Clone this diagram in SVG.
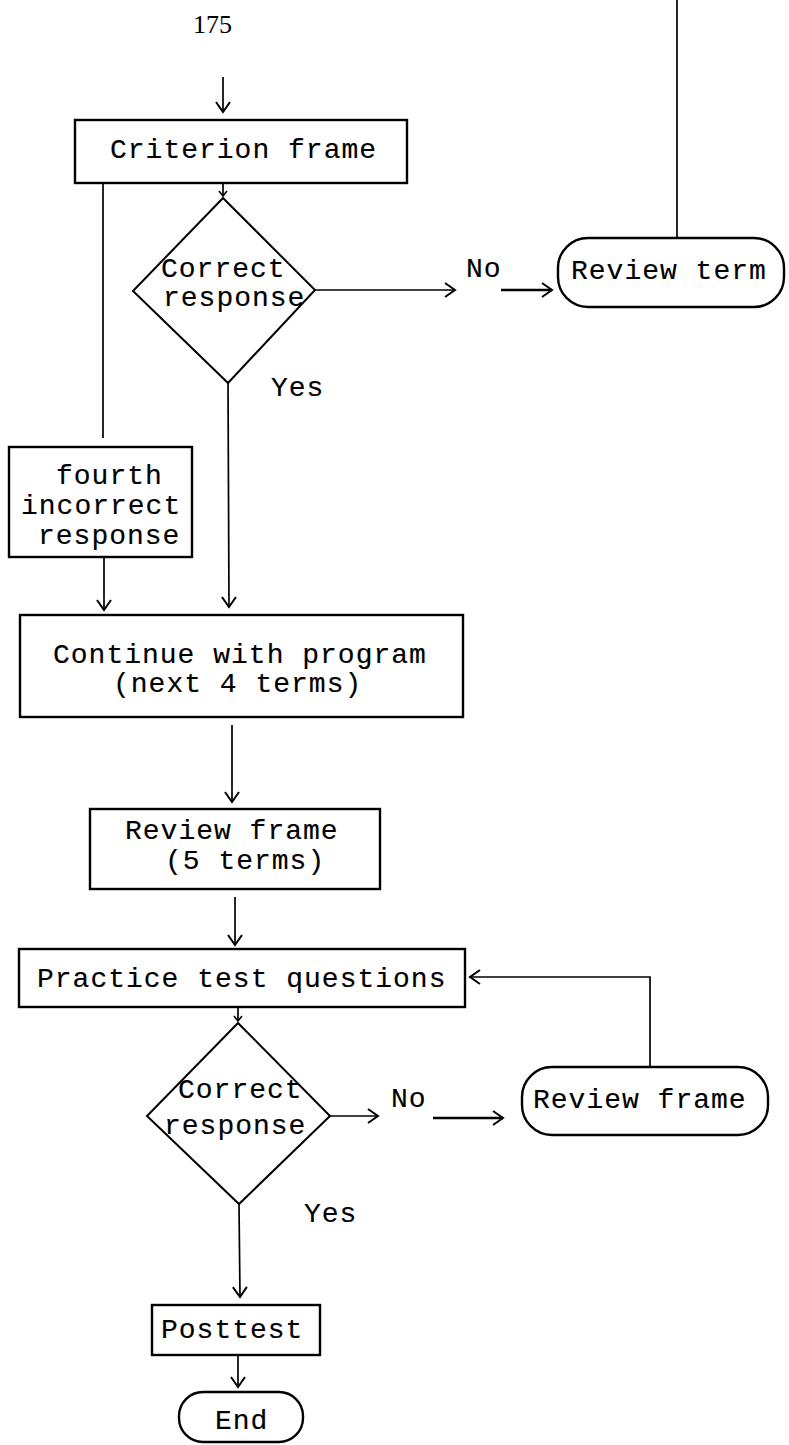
<svg xmlns="http://www.w3.org/2000/svg" width="789" height="1445" viewBox="0 0 789 1445">
  <style>
    .box { fill: none; stroke: #000; stroke-width: 2.4; }
    .dec { fill: none; stroke: #000; stroke-width: 2; stroke-linejoin: miter; }
    .wire { fill: none; stroke: #000; stroke-width: 1.7; }
    .bold { stroke-width: 2.4; }
    .t { font-family: "Liberation Mono", "Courier New", monospace; font-size: 28px; letter-spacing: 1px; fill: #000; stroke: #000; stroke-width: 0.15px; }
    .pg { font-family: "Liberation Serif", "Times New Roman", serif; font-size: 26px; fill: #000; }
  </style>
  <defs>
    <marker id="arr" markerUnits="userSpaceOnUse" viewBox="-12 -9 14 18" markerWidth="14" markerHeight="18" refX="0" refY="0" orient="auto">
      <path d="M-10,-7 L0,0 L-10,7" fill="none" stroke="#000" stroke-width="2"/>
    </marker>
    <marker id="arrS" markerUnits="userSpaceOnUse" viewBox="-7 -5 8 10" markerWidth="8" markerHeight="10" refX="0" refY="0" orient="auto">
      <path d="M-5,-4 L0,0 L-5,4" fill="none" stroke="#000" stroke-width="1.6"/>
    </marker>
  </defs>

  <!-- page number -->
  <text class="pg" x="193" y="33">175</text>

  <!-- connectors -->
  <g id="connectors">
    <path class="wire" d="M223,77 L223,112" marker-end="url(#arr)"/>
    <path class="wire" d="M223,184 L223,196" marker-end="url(#arrS)"/>
    <path class="wire" d="M315,290 L455,290" marker-end="url(#arr)"/>
    <path class="wire bold" d="M501,290 L552,290" marker-end="url(#arr)"/>
    <path class="wire" d="M677,238 L677,0"/>
    <path class="wire" d="M103,184 L103,438"/>
    <path class="wire" d="M104,558 L104,610" marker-end="url(#arr)"/>
    <path class="wire" d="M228,383 L229,607" marker-end="url(#arr)"/>
    <path class="wire" d="M232,725 L232,802" marker-end="url(#arr)"/>
    <path class="wire" d="M235,897 L235,945" marker-end="url(#arr)"/>
    <path class="wire" d="M238,1008 L238,1021" marker-end="url(#arrS)"/>
    <path class="wire" d="M330,1116 L378,1116" marker-end="url(#arr)"/>
    <path class="wire bold" d="M433,1118 L503,1118" marker-end="url(#arr)"/>
    <path class="wire" d="M650,1067 L650,977 L470,977" marker-end="url(#arr)"/>
    <path class="wire" d="M239,1204 L240,1297" marker-end="url(#arr)"/>
    <path class="wire" d="M238,1356 L238,1387" marker-end="url(#arr)"/>
  </g>

  <!-- branch labels -->
  <g id="labels">
    <text class="t" x="466" y="277">No</text>
    <text class="t" x="271" y="396">Yes</text>
    <text class="t" x="391" y="1107">No</text>
    <text class="t" x="304" y="1222">Yes</text>
  </g>

  <g id="criterion-frame">
    <rect class="box" x="75" y="120" width="332" height="63"/>
    <text class="t" x="110" y="158">Criterion frame</text>
  </g>

  <g id="decision-1">
    <polygon class="dec" points="223,198 315,290 228,383 133,291"/>
    <text class="t" x="161" y="277">Correct</text>
    <text class="t" x="163" y="306">response</text>
  </g>

  <g id="review-term">
    <rect class="box" x="558" y="238" width="226" height="69" rx="30" ry="30"/>
    <text class="t" x="571" y="279">Review term</text>
  </g>

  <g id="fourth-incorrect">
    <rect class="box" x="9" y="447" width="183" height="110"/>
    <text class="t" x="56" y="484">fourth</text>
    <text class="t" x="21" y="514">incorrect</text>
    <text class="t" x="38" y="544">response</text>
  </g>

  <g id="continue-program">
    <rect class="box" x="20" y="615" width="443" height="102"/>
    <text class="t" x="53" y="663">Continue with program</text>
    <text class="t" x="113" y="692">(next 4 terms)</text>
  </g>

  <g id="review-frame-5">
    <rect class="box" x="90" y="809" width="290" height="80"/>
    <text class="t" x="125" y="839">Review frame</text>
    <text class="t" x="165" y="869">(5 terms)</text>
  </g>

  <g id="practice-test">
    <rect class="box" x="19" y="949" width="446" height="58"/>
    <text class="t" x="37" y="987">Practice test questions</text>
  </g>

  <g id="decision-2">
    <polygon class="dec" points="238,1023 330,1116 239,1204 147,1116"/>
    <text class="t" x="178" y="1098">Correct</text>
    <text class="t" x="164" y="1134">response</text>
  </g>

  <g id="review-frame">
    <rect class="box" x="522" y="1067" width="246" height="68" rx="30" ry="30"/>
    <text class="t" x="533" y="1108">Review frame</text>
  </g>

  <g id="posttest">
    <rect class="box" x="152" y="1305" width="168" height="50"/>
    <text class="t" x="161" y="1338">Posttest</text>
  </g>

  <g id="end">
    <rect class="box" x="179" y="1392" width="124" height="50" rx="24" ry="24"/>
    <text class="t" x="215" y="1429">End</text>
  </g>
</svg>
